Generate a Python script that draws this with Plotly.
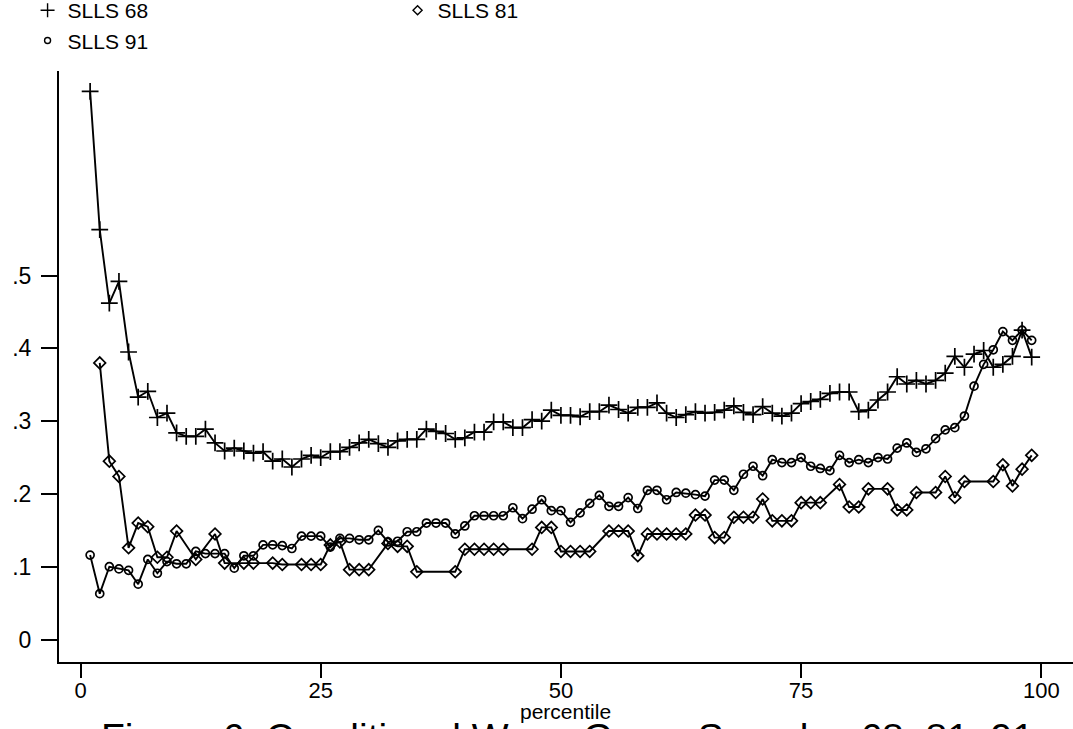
import plotly.graph_objects as go

# ---------------- data ----------------
pct_68 = list(range(1, 100))
slls_68 = [0.753, 0.563, 0.462, 0.492, 0.395, 0.333, 0.341, 0.305, 0.311, 0.284,
           0.279, 0.279, 0.289, 0.270, 0.259, 0.263, 0.259, 0.256, 0.258, 0.245,
           0.248, 0.237, 0.248, 0.253, 0.250, 0.258, 0.258, 0.264, 0.270, 0.275,
           0.269, 0.264, 0.273, 0.275, 0.275, 0.289, 0.286, 0.283, 0.275, 0.277,
           0.285, 0.285, 0.299, 0.299, 0.291, 0.291, 0.302, 0.300, 0.315, 0.308,
           0.308, 0.306, 0.313, 0.313, 0.322, 0.316, 0.311, 0.319, 0.319, 0.325,
           0.311, 0.305, 0.309, 0.313, 0.311, 0.312, 0.315, 0.321, 0.312, 0.309,
           0.320, 0.311, 0.307, 0.311, 0.324, 0.327, 0.330, 0.338, 0.340, 0.340,
           0.313, 0.315, 0.329, 0.340, 0.361, 0.351, 0.356, 0.351, 0.356, 0.366,
           0.389, 0.374, 0.392, 0.397, 0.374, 0.378, 0.389, 0.425, 0.388]

pct_81 = [2, 3, 4, 5, 6, 7, 8, 9, 10, 12, 14, 15, 17, 18, 20, 21, 23, 24, 25, 26,
          27, 28, 29, 30, 32, 33, 34, 35, 39, 40, 41, 42, 43, 44, 47, 48, 49, 50,
          51, 52, 53, 55, 56, 57, 58, 59, 60, 61, 62, 63, 64, 65, 66, 67, 68, 69,
          70, 71, 72, 73, 74, 75, 76, 77, 79, 80, 81, 82, 84, 85, 86, 87, 89, 90,
          91, 92, 95, 96, 97, 98, 99]
slls_81 = [0.380, 0.245, 0.224, 0.126, 0.160, 0.155, 0.113, 0.113, 0.149, 0.110,
           0.145, 0.105, 0.105, 0.105, 0.105, 0.103, 0.103, 0.103, 0.103, 0.130,
           0.134, 0.096, 0.096, 0.096, 0.132, 0.128, 0.128, 0.093, 0.093, 0.124,
           0.124, 0.124, 0.124, 0.124, 0.124, 0.154, 0.154, 0.121, 0.121, 0.121,
           0.121, 0.149, 0.149, 0.149, 0.115, 0.145, 0.145, 0.145, 0.145, 0.145,
           0.171, 0.171, 0.140, 0.140, 0.168, 0.168, 0.168, 0.193, 0.163, 0.163,
           0.163, 0.188, 0.188, 0.188, 0.213, 0.182, 0.182, 0.207, 0.207, 0.178,
           0.178, 0.202, 0.202, 0.224, 0.195, 0.217, 0.217, 0.240, 0.211, 0.234,
           0.253]

pct_91 = list(range(1, 100))
slls_91 = [0.116, 0.063, 0.100, 0.097, 0.095, 0.076, 0.110, 0.091, 0.107, 0.104,
           0.104, 0.121, 0.118, 0.118, 0.118, 0.098, 0.115, 0.115, 0.130, 0.130,
           0.129, 0.125, 0.142, 0.142, 0.142, 0.127, 0.139, 0.139, 0.137, 0.137,
           0.150, 0.134, 0.135, 0.148, 0.148, 0.160, 0.160, 0.160, 0.145, 0.156,
           0.170, 0.170, 0.170, 0.170, 0.181, 0.166, 0.179, 0.192, 0.177, 0.177,
           0.161, 0.174, 0.187, 0.198, 0.183, 0.183, 0.195, 0.180, 0.205, 0.205,
           0.192, 0.202, 0.201, 0.199, 0.197, 0.219, 0.219, 0.205, 0.227, 0.238,
           0.225, 0.247, 0.243, 0.243, 0.250, 0.238, 0.235, 0.232, 0.253, 0.243,
           0.247, 0.243, 0.250, 0.248, 0.263, 0.270, 0.257, 0.262, 0.276, 0.288,
           0.291, 0.307, 0.348, 0.378, 0.398, 0.423, 0.411, 0.425, 0.411]

x_ticks = [0, 25, 50, 75, 100]
x_ticklabels = ["0", "25", "50", "75", "100"]
y_ticks = [0, 0.1, 0.2, 0.3, 0.4, 0.5]
y_ticklabels = ["0", ".1", ".2", ".3", ".4", ".5"]

FONT = "Liberation Sans, Arial, Helvetica, sans-serif"

fig = go.Figure()

series = [
    ("SLLS 68", pct_68, slls_68, "cross-thin-open", 12),
    ("SLLS 81", pct_81, slls_81, "diamond-open", 9),
    ("SLLS 91", pct_91, slls_91, "circle-open", 8),
]

for name, xs, ys, sym, size in series:
    fig.add_trace(go.Scatter(
        x=xs, y=ys, mode="lines+markers", name=name, showlegend=False,
        line=dict(color="black", width=1.9),
        marker=dict(symbol=sym, size=size, color="black",
                    line=dict(color="black", width=1.7)),
    ))

# legend-only entries (markers only, like the original)
for name, xs, ys, sym, size in series:
    fig.add_trace(go.Scatter(
        x=[None], y=[None], mode="markers", name=name, showlegend=True,
        marker=dict(symbol=sym, size=size - 2 if sym != "cross-thin-open" else 10,
                    color="black", line=dict(color="black", width=1.4)),
    ))

fig.update_layout(
    width=1073, height=729,
    margin=dict(l=59, r=0, t=71, b=67, autoexpand=False),
    paper_bgcolor="white", plot_bgcolor="white",
    font=dict(family=FONT, color="black", size=20),
    legend=dict(
        orientation="h", x=-0.031, xanchor="left", y=1.137, yanchor="top",
        entrywidth=325, entrywidthmode="pixels",
        font=dict(size=21, family=FONT, color="black"),
        itemsizing="trace", tracegroupgap=0, bgcolor="rgba(0,0,0,0)",
    ),
    xaxis=dict(
        range=[-2.24, 103.3], tickmode="array", tickvals=x_ticks, ticktext=x_ticklabels,
        showgrid=False, zeroline=False, showline=True, linecolor="black", linewidth=2,
        ticks="outside", ticklen=14, tickwidth=2, tickcolor="black",
        tickfont=dict(size=22, family=FONT, color="black"),
        ticklabelstandoff=-6,
    ),
    yaxis=dict(
        range=[-0.0309, 0.781], tickmode="array", tickvals=y_ticks, ticktext=y_ticklabels,
        showgrid=False, zeroline=False, showline=True, linecolor="black", linewidth=2,
        ticks="outside", ticklen=16, tickwidth=2, tickcolor="black",
        tickfont=dict(size=23, family=FONT, color="black"),
        ticklabelstandoff=5,
    ),
    annotations=[
        dict(text="percentile", xref="paper", yref="paper", x=0.4995, y=-0.061,
             xanchor="center", yanchor="top", showarrow=False,
             font=dict(size=21, family=FONT, color="black")),
        dict(text="Figure 6: Conditional Wage Gaps, Samples 68, 81, 91",
             xref="paper", yref="paper", x=0.501, y=-0.088,
             xanchor="center", yanchor="top", showarrow=False,
             font=dict(size=39, family=FONT, color="black")),
    ],
)

fig.write_html(
    "out.html",
    config={"displayModeBar": False},
    post_script="document.body.style.margin='0';document.body.style.overflow='hidden';",
)
